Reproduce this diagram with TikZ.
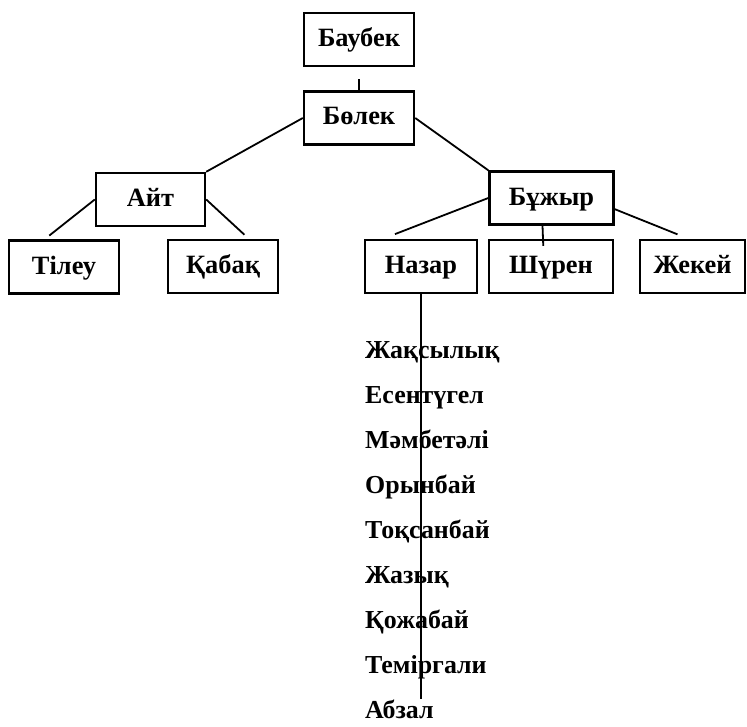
\documentclass[tikz,border=0pt]{standalone}
\usepackage{fontspec}
\setmainfont{Liberation Serif}

\begin{document}
\begin{tikzpicture}[x=1bp, y=-1bp]
    \tikzset{person/.style={draw, line width=2.4bp, inner sep=0pt, minimum height=53bp,
        font=\fontsize{26.5}{30}\selectfont\bfseries, text height=18bp, text depth=4bp}};
    \tikzset{child/.style={inner sep=0pt, anchor=base west, font=\fontsize{26}{30}\selectfont\bfseries}};
    \tikzset{edge/.style={line width=1.8bp}};

    \useasboundingbox (0, 0) rectangle (747, 727);

    % Root
    \node [person, minimum width=110bp] (baubek) at (359, 39.5) {Баубек};
    \node [person, minimum width=110bp] (bolek) at (359, 118) {Бөлек};

    % Level 1
    \node [person, minimum width=109bp] (ait) at (150.5, 199.5) {Айт};
    \node [person, minimum width=124bp] (buzhyr) at (551.5, 198) {Бұжыр};

    % Level 2
    \node [person, minimum width=110bp] (tileu) at (64, 267) {Тілеу};
    \node [person, minimum width=110bp] (kabak) at (223, 266.5) {Қабақ};
    \node [person, minimum width=112bp] (nazar) at (421, 266.5) {Назар};
    \node [person, minimum width=124bp] (shuren) at (551, 266.5) {Шүрен};
    \node [person, minimum width=105bp] (zhekei) at (692.5, 266.5) {Жекей};

    % Descendants of Nazar
    \foreach \n/\name in {1/Жақсылық, 2/Есентүгел, 3/Мәмбетәлі, 4/Орынбай, 5/Тоқсанбай,
                          6/Жазық, 7/Қожабай, 8/Теміргали, 9/Абзал}
        \node [child] (n\n) at (365, 358 + 45*\n - 45) {\name};

    % Edges
    \draw [edge, shorten <=12bp] (baubek) -- (bolek);
    \draw [edge] (bolek.west) -- (ait.north east);
    \draw [edge] (bolek.east) -- (buzhyr.north west);
    \draw [edge, shorten >=6bp] (ait.west) -- (tileu.125);
    \draw [edge, shorten >=6bp] (ait.east) -- (kabak.47);
    \draw [edge, shorten >=13bp] (buzhyr.west) -- (nazar.144);
    \draw [edge, shorten >=-7bp] ([xshift=-9bp]buzhyr.south) -- ([xshift=-8bp]shuren.north);
    \draw [edge, shorten >=12bp] (buzhyr.-10) -- (zhekei.98);
    \draw [edge] (nazar) -- (nazar |- n9.north);
  \end{tikzpicture}
\end{document}
